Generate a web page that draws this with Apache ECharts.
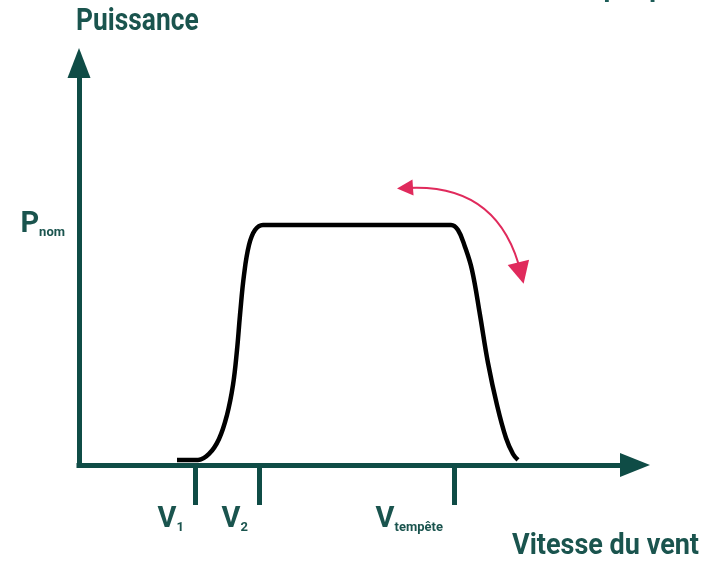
<!DOCTYPE html>
<html>
<head>
<meta charset="utf-8">
<title>Graphique 2</title>
<script src="https://cdn.jsdelivr.net/npm/echarts@6/dist/echarts.min.js"></script>
<style>
  html, body { margin: 0; padding: 0; background: #fff; }
  #chart { width: 711px; height: 563px; }
</style>
</head>
<body>
<div id="chart"></div>
<script>
// courbe de puissance (vitesse du vent, puissance)
const curveSpeed = [4.9, 5.95, 6.5, 7.0, 7.4, 7.7, 7.9, 8.05, 8.25, 8.5, 8.8, 9.2, 9.8, 14.0, 18.6, 18.95, 19.3, 19.65, 20.05, 20.45, 20.9, 21.35, 21.7, 21.95];
const curvePower = [42, 42, 92, 217, 417, 667, 958, 1250, 1583, 1833, 1958, 2000, 2000, 2000, 2000, 1958, 1817, 1625, 1250, 850, 500, 225, 92, 42];

// graduations de l'axe des vitesses
const tickSpeeds = [5.8, 9.0, 18.75];
const tickNames = ['1', '2', 'tempête'];

// puissance nominale
const pNom = 2000;

// flèche rouge (début, fin)
const arrowStart = [16.3, 2308];
const arrowEnd = [22.1, 1600];

const teal = '#0f4c46';
const textTeal = '#1a544e';
const font = 'Roboto, sans-serif';

// texte resserré (police condensée absente)
const narrowText = (text, x, y, align, size, color, scaleX = 0.85) => ({
  type: 'text',
  x,
  y,
  scaleX,
  style: {
    text,
    x: 0,
    y: 0,
    align,
    verticalAlign: 'middle',
    font: `bold ${size}px ${font}`,
    fill: color,
  },
});

const chart = echarts.init(document.getElementById('chart'));

const option = {
  animation: false,
  backgroundColor: '#fff',
  graphic: [
    narrowText('Graphique 2', 708, -12, 'right', 30, '#1c5c57', 0.9),
    narrowText('Puissance', 76, 22, 'left', 31, textTeal),
    narrowText('Vitesse du vent', 699, 546, 'right', 30, textTeal, 0.9),
  ],
  grid: {
    left: 79,
    top: 63,
    right: 76,
    bottom: 98,
  },
  xAxis: {
    type: 'value',
    min: 0,
    max: 27.8,
    splitLine: { show: false },
    axisLine: {
      symbol: ['none', 'triangle'],
      symbolSize: [24, 30],
      lineStyle: { color: teal, width: 5, cap: 'square' },
    },
    axisTick: {
      customValues: tickSpeeds,
      length: 40,
      lineStyle: { color: teal, width: 5 },
    },
    axisLabel: {
      customValues: tickSpeeds,
      margin: 40,
      align: 'right',
      padding: [0, 11, 0, 0],
      formatter: (value) => `{v|V}{s|${tickNames[tickSpeeds.indexOf(value)]}}`,
      rich: {
        v: { color: textTeal, fontFamily: font, fontWeight: 'bold', fontSize: 29, verticalAlign: 'bottom' },
        s: { color: textTeal, fontFamily: font, fontWeight: 'bold', fontSize: 13, verticalAlign: 'bottom' },
      },
    },
  },
  yAxis: {
    type: 'value',
    min: 0,
    max: 3350,
    splitLine: { show: false },
    axisLine: {
      symbol: ['none', 'triangle'],
      symbolSize: [23, 30],
      lineStyle: { color: teal, width: 5, cap: 'square' },
    },
    axisTick: { show: false },
    axisLabel: {
      customValues: [pNom],
      margin: 14,
      formatter: () => '{v|P}{s|nom}',
      rich: {
        v: { color: textTeal, fontFamily: font, fontWeight: 'bold', fontSize: 29, verticalAlign: 'bottom' },
        s: { color: textTeal, fontFamily: font, fontWeight: 'bold', fontSize: 13, verticalAlign: 'bottom' },
      },
    },
  },
  series: [
    {
      type: 'line',
      data: curveSpeed.map((v, i) => [v, curvePower[i]]),
      smooth: 0.4,
      symbol: 'none',
      lineStyle: { color: '#000', width: 4.5 },
      z: 3,
    },
    {
      type: 'lines',
      coordinateSystem: 'cartesian2d',
      symbol: ['triangle', 'triangle'],
      symbolSize: [16, 22],
      lineStyle: { color: '#e02a5c', width: 2, curveness: 0.42, opacity: 1 },
      data: [{ coords: [arrowStart, arrowEnd] }],
      z: 4,
    },
  ],
};

chart.setOption(option);
</script>
</body>
</html>
